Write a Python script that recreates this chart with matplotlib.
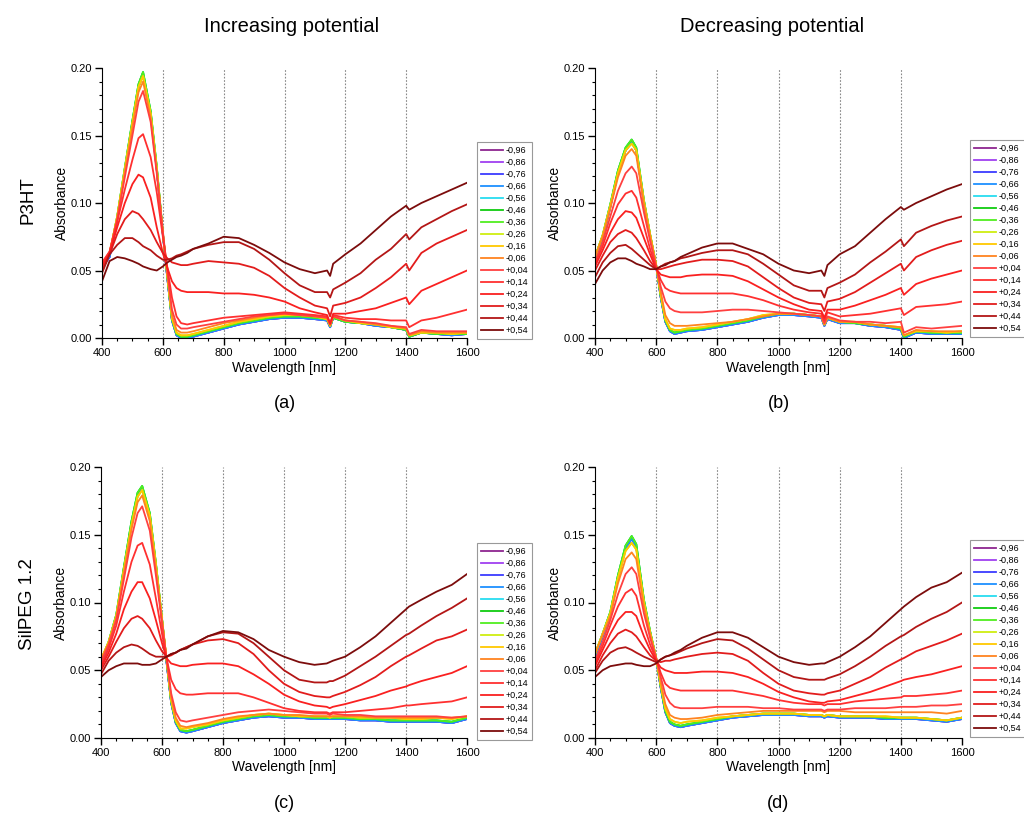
import matplotlib
matplotlib.use("Agg")
import matplotlib.pyplot as plt
from matplotlib.ticker import MultipleLocator

plt.rcParams['font.family'] = ['Liberation Sans', 'DejaVu Sans']

WL = [400, 425, 450, 475, 500, 520, 535, 560, 580, 600, 615, 630, 645, 660, 680, 700,
      750, 800, 850, 900, 950, 1000, 1050, 1100, 1140, 1150, 1160, 1200, 1250, 1300,
      1350, 1400, 1410, 1450, 1500, 1550, 1600]

POTENTIALS = ['-0,96', '-0,86', '-0,76', '-0,66', '-0,56', '-0,46', '-0,36', '-0,26',
              '-0,16', '-0,06', '+0,04', '+0,14', '+0,24', '+0,34', '+0,44', '+0,54']
COLORS = ['#8e2590', '#a040f0', '#3c3cff', '#1e90ff', '#28dcf0', '#10cc10', '#50ee20',
          '#cfee10', '#ffc800', '#ff8420', '#ff4040', '#ff3030', '#fa2020', '#e21c1c',
          '#b31616', '#7c0c0c']

# ---- (a) P3HT, increasing potential
A_NLOW = [0.052, 0.060, 0.088, 0.124, 0.159, 0.186, 0.195, 0.166, 0.125, 0.077, 0.044, 0.013, 0.002,
          0.000, 0.000, 0.001, 0.004, 0.007, 0.010, 0.012, 0.014, 0.015, 0.015, 0.014, 0.013, 0.008,
          0.015, 0.012, 0.011, 0.009, 0.008, 0.006, 0.001, 0.004, 0.003, 0.002, 0.003]
A_NHIGH = [0.054, 0.062, 0.090, 0.126, 0.161, 0.188, 0.197, 0.168, 0.127, 0.078, 0.045, 0.014, 0.003,
           0.001, 0.001, 0.002, 0.005, 0.008, 0.011, 0.013, 0.015, 0.016, 0.016, 0.015, 0.014, 0.009,
           0.015, 0.012, 0.011, 0.010, 0.008, 0.006, 0.001, 0.004, 0.003, 0.003, 0.003]
A_NYEL = [0.055, 0.063, 0.090, 0.125, 0.159, 0.186, 0.194, 0.166, 0.126, 0.078, 0.046, 0.015, 0.004,
          0.002, 0.002, 0.003, 0.006, 0.009, 0.012, 0.014, 0.016, 0.017, 0.017, 0.016, 0.014, 0.009,
          0.016, 0.013, 0.011, 0.010, 0.008, 0.007, 0.002, 0.004, 0.004, 0.003, 0.004]
A_NORG = [0.055, 0.063, 0.089, 0.123, 0.156, 0.182, 0.190, 0.163, 0.124, 0.078, 0.047, 0.017, 0.006,
          0.004, 0.004, 0.005, 0.008, 0.011, 0.013, 0.015, 0.017, 0.018, 0.017, 0.016, 0.015, 0.010,
          0.016, 0.013, 0.012, 0.010, 0.009, 0.007, 0.002, 0.005, 0.004, 0.004, 0.004]
A_P04 = [0.056, 0.064, 0.088, 0.119, 0.150, 0.175, 0.183, 0.160, 0.122, 0.079, 0.049, 0.021, 0.010,
         0.007, 0.007, 0.008, 0.010, 0.012, 0.014, 0.016, 0.017, 0.018, 0.017, 0.016, 0.015, 0.010,
         0.016, 0.013, 0.012, 0.011, 0.009, 0.008, 0.003, 0.006, 0.005, 0.005, 0.005]
A_P14 = [0.055, 0.064, 0.086, 0.110, 0.132, 0.148, 0.151, 0.134, 0.108, 0.075, 0.052, 0.030, 0.016,
         0.011, 0.010, 0.011, 0.013, 0.015, 0.016, 0.017, 0.018, 0.019, 0.018, 0.017, 0.016, 0.010,
         0.017, 0.015, 0.014, 0.014, 0.013, 0.013, 0.008, 0.013, 0.015, 0.018, 0.021]
A_P24 = [0.053, 0.063, 0.082, 0.100, 0.114, 0.121, 0.119, 0.104, 0.082, 0.063, 0.052, 0.042, 0.037,
         0.035, 0.034, 0.034, 0.034, 0.033, 0.033, 0.032, 0.030, 0.027, 0.022, 0.019, 0.017, 0.011,
         0.018, 0.018, 0.020, 0.022, 0.026, 0.030, 0.025, 0.035, 0.040, 0.045, 0.050]
A_P34 = [0.050, 0.062, 0.077, 0.088, 0.094, 0.092, 0.088, 0.080, 0.071, 0.063, 0.059, 0.056, 0.055,
         0.054, 0.054, 0.055, 0.057, 0.056, 0.055, 0.052, 0.046, 0.037, 0.030, 0.024, 0.022, 0.016,
         0.024, 0.026, 0.030, 0.037, 0.045, 0.055, 0.050, 0.063, 0.070, 0.075, 0.080]
A_P44 = [0.048, 0.062, 0.069, 0.074, 0.074, 0.071, 0.068, 0.065, 0.061, 0.058, 0.058, 0.059, 0.061,
         0.062, 0.064, 0.066, 0.069, 0.071, 0.071, 0.066, 0.058, 0.048, 0.039, 0.034, 0.034, 0.030,
         0.036, 0.041, 0.048, 0.058, 0.066, 0.077, 0.073, 0.082, 0.088, 0.094, 0.099]
A_P54 = [0.042, 0.057, 0.060, 0.059, 0.057, 0.055, 0.053, 0.051, 0.050, 0.053, 0.056, 0.058, 0.060,
         0.061, 0.063, 0.066, 0.070, 0.075, 0.074, 0.069, 0.063, 0.056, 0.051, 0.048, 0.050, 0.046,
         0.055, 0.062, 0.070, 0.080, 0.090, 0.098, 0.095, 0.100, 0.105, 0.110, 0.115]

# ---- (b) P3HT, decreasing potential
B_NLOW = [0.058, 0.074, 0.097, 0.122, 0.139, 0.145, 0.139, 0.100, 0.076, 0.053, 0.030, 0.012, 0.005,
          0.003, 0.004, 0.005, 0.006, 0.008, 0.010, 0.012, 0.015, 0.017, 0.017, 0.016, 0.015, 0.009,
          0.014, 0.011, 0.011, 0.009, 0.008, 0.006, 0.000, 0.004, 0.003, 0.003, 0.003]
B_NHIGH = [0.060, 0.076, 0.099, 0.124, 0.141, 0.147, 0.141, 0.102, 0.077, 0.054, 0.031, 0.013, 0.006,
           0.004, 0.005, 0.006, 0.007, 0.009, 0.011, 0.013, 0.016, 0.018, 0.018, 0.017, 0.016, 0.010,
           0.015, 0.012, 0.011, 0.010, 0.009, 0.007, 0.001, 0.005, 0.004, 0.004, 0.004]
B_NYEL = [0.060, 0.076, 0.098, 0.122, 0.139, 0.144, 0.139, 0.101, 0.077, 0.054, 0.032, 0.014, 0.007,
          0.006, 0.006, 0.007, 0.008, 0.010, 0.012, 0.014, 0.017, 0.018, 0.018, 0.017, 0.016, 0.010,
          0.015, 0.012, 0.012, 0.010, 0.009, 0.008, 0.002, 0.005, 0.005, 0.004, 0.005]
B_NORG = [0.060, 0.075, 0.096, 0.119, 0.135, 0.140, 0.135, 0.099, 0.076, 0.054, 0.034, 0.017, 0.011,
          0.009, 0.009, 0.009, 0.010, 0.011, 0.012, 0.014, 0.016, 0.018, 0.018, 0.017, 0.016, 0.010,
          0.015, 0.012, 0.012, 0.010, 0.009, 0.008, 0.002, 0.006, 0.005, 0.005, 0.005]
B_P04 = [0.056, 0.071, 0.090, 0.109, 0.122, 0.127, 0.122, 0.093, 0.072, 0.053, 0.038, 0.027, 0.022,
         0.020, 0.019, 0.019, 0.019, 0.020, 0.021, 0.021, 0.020, 0.019, 0.018, 0.017, 0.016, 0.011,
         0.016, 0.013, 0.012, 0.012, 0.011, 0.012, 0.004, 0.008, 0.007, 0.008, 0.009]
B_P14 = [0.055, 0.068, 0.085, 0.099, 0.107, 0.109, 0.104, 0.083, 0.066, 0.052, 0.043, 0.037, 0.035,
         0.034, 0.033, 0.033, 0.033, 0.033, 0.033, 0.031, 0.028, 0.024, 0.021, 0.019, 0.018, 0.013,
         0.019, 0.016, 0.017, 0.018, 0.020, 0.022, 0.017, 0.023, 0.024, 0.025, 0.027]
B_P24 = [0.053, 0.065, 0.078, 0.088, 0.094, 0.093, 0.089, 0.074, 0.062, 0.051, 0.047, 0.046, 0.045,
         0.045, 0.045, 0.046, 0.047, 0.047, 0.046, 0.042, 0.036, 0.030, 0.025, 0.021, 0.020, 0.015,
         0.021, 0.021, 0.024, 0.028, 0.032, 0.037, 0.032, 0.040, 0.044, 0.047, 0.050]
B_P34 = [0.050, 0.061, 0.071, 0.077, 0.080, 0.078, 0.074, 0.065, 0.057, 0.051, 0.051, 0.052, 0.053,
         0.054, 0.055, 0.056, 0.058, 0.058, 0.057, 0.053, 0.045, 0.037, 0.030, 0.026, 0.025, 0.020,
         0.027, 0.029, 0.034, 0.041, 0.048, 0.055, 0.050, 0.060, 0.065, 0.069, 0.072]
B_P44 = [0.045, 0.056, 0.063, 0.068, 0.069, 0.066, 0.063, 0.058, 0.054, 0.051, 0.053, 0.055, 0.056,
         0.057, 0.059, 0.060, 0.063, 0.065, 0.065, 0.062, 0.055, 0.047, 0.039, 0.035, 0.035, 0.030,
         0.037, 0.041, 0.047, 0.056, 0.064, 0.073, 0.068, 0.078, 0.083, 0.087, 0.090]
B_P54 = [0.040, 0.050, 0.056, 0.059, 0.059, 0.057, 0.055, 0.053, 0.051, 0.051, 0.053, 0.054, 0.056,
         0.057, 0.060, 0.062, 0.067, 0.070, 0.070, 0.066, 0.062, 0.055, 0.050, 0.048, 0.050, 0.046,
         0.054, 0.062, 0.068, 0.078, 0.088, 0.097, 0.095, 0.100, 0.105, 0.110, 0.114]

# ---- (c) SilPEG 1.2, increasing potential
C_NLOW = [0.055, 0.069, 0.089, 0.124, 0.158, 0.179, 0.184, 0.164, 0.127, 0.087, 0.056, 0.026, 0.011,
          0.005, 0.004, 0.005, 0.008, 0.011, 0.013, 0.015, 0.016, 0.015, 0.015, 0.014, 0.014, 0.014,
          0.014, 0.014, 0.013, 0.013, 0.012, 0.012, 0.012, 0.012, 0.012, 0.011, 0.014]
C_NHIGH = [0.057, 0.071, 0.091, 0.126, 0.160, 0.181, 0.186, 0.166, 0.129, 0.088, 0.057, 0.027, 0.012,
           0.006, 0.005, 0.006, 0.009, 0.012, 0.014, 0.016, 0.017, 0.016, 0.016, 0.015, 0.015, 0.015,
           0.015, 0.015, 0.014, 0.014, 0.013, 0.013, 0.013, 0.013, 0.013, 0.012, 0.015]
C_NYEL = [0.058, 0.071, 0.090, 0.124, 0.157, 0.178, 0.183, 0.164, 0.128, 0.088, 0.058, 0.028, 0.013,
          0.007, 0.007, 0.008, 0.010, 0.013, 0.015, 0.017, 0.018, 0.017, 0.016, 0.016, 0.016, 0.015,
          0.016, 0.016, 0.015, 0.015, 0.015, 0.014, 0.014, 0.014, 0.015, 0.014, 0.016]
C_NORG = [0.058, 0.070, 0.089, 0.122, 0.154, 0.174, 0.179, 0.160, 0.125, 0.087, 0.058, 0.030, 0.015,
          0.009, 0.008, 0.009, 0.011, 0.014, 0.016, 0.017, 0.018, 0.017, 0.017, 0.016, 0.016, 0.016,
          0.016, 0.016, 0.016, 0.015, 0.015, 0.015, 0.015, 0.015, 0.015, 0.015, 0.016]
C_P04 = [0.056, 0.069, 0.087, 0.117, 0.148, 0.166, 0.171, 0.153, 0.120, 0.085, 0.059, 0.033, 0.019,
         0.013, 0.012, 0.013, 0.015, 0.017, 0.019, 0.020, 0.021, 0.020, 0.019, 0.018, 0.018, 0.017,
         0.018, 0.017, 0.017, 0.016, 0.016, 0.016, 0.016, 0.016, 0.016, 0.015, 0.016]
C_P14 = [0.053, 0.066, 0.083, 0.108, 0.130, 0.142, 0.144, 0.128, 0.103, 0.077, 0.059, 0.043, 0.036,
         0.033, 0.032, 0.032, 0.033, 0.033, 0.033, 0.030, 0.026, 0.022, 0.020, 0.019, 0.019, 0.018,
         0.019, 0.019, 0.020, 0.021, 0.022, 0.024, 0.024, 0.025, 0.026, 0.027, 0.030]
C_P24 = [0.052, 0.063, 0.077, 0.095, 0.108, 0.115, 0.115, 0.103, 0.087, 0.070, 0.059, 0.055, 0.054,
         0.053, 0.053, 0.054, 0.055, 0.055, 0.053, 0.047, 0.040, 0.032, 0.027, 0.024, 0.023, 0.022,
         0.023, 0.025, 0.028, 0.031, 0.035, 0.038, 0.039, 0.042, 0.045, 0.048, 0.053]
C_P34 = [0.050, 0.060, 0.071, 0.081, 0.088, 0.090, 0.088, 0.081, 0.072, 0.064, 0.060, 0.061, 0.063,
         0.065, 0.067, 0.069, 0.072, 0.073, 0.070, 0.062, 0.050, 0.040, 0.034, 0.031, 0.030, 0.030,
         0.031, 0.034, 0.039, 0.045, 0.053, 0.060, 0.061, 0.066, 0.072, 0.075, 0.080]
C_P44 = [0.047, 0.057, 0.063, 0.067, 0.069, 0.068, 0.066, 0.062, 0.060, 0.060, 0.060, 0.062, 0.063,
         0.065, 0.067, 0.069, 0.075, 0.078, 0.077, 0.070, 0.060, 0.050, 0.043, 0.041, 0.041, 0.042,
         0.042, 0.046, 0.053, 0.060, 0.068, 0.076, 0.077, 0.083, 0.090, 0.096, 0.103]
C_P54 = [0.045, 0.050, 0.053, 0.055, 0.055, 0.055, 0.054, 0.054, 0.055, 0.058, 0.060, 0.062, 0.063,
         0.065, 0.066, 0.069, 0.075, 0.079, 0.078, 0.073, 0.065, 0.060, 0.056, 0.054, 0.055, 0.056,
         0.057, 0.060, 0.067, 0.075, 0.085, 0.095, 0.097, 0.102, 0.108, 0.113, 0.121]

# ---- (d) SilPEG 1.2, decreasing potential
D_NLOW = [0.060, 0.075, 0.091, 0.118, 0.140, 0.147, 0.141, 0.100, 0.078, 0.058, 0.037, 0.019, 0.011,
          0.009, 0.008, 0.009, 0.011, 0.013, 0.015, 0.016, 0.017, 0.017, 0.017, 0.016, 0.016, 0.015,
          0.016, 0.015, 0.015, 0.015, 0.014, 0.014, 0.014, 0.014, 0.013, 0.012, 0.014]
D_NHIGH = [0.062, 0.077, 0.093, 0.120, 0.142, 0.149, 0.143, 0.102, 0.079, 0.059, 0.038, 0.020, 0.012,
           0.010, 0.009, 0.010, 0.012, 0.014, 0.016, 0.017, 0.018, 0.018, 0.018, 0.017, 0.017, 0.016,
           0.017, 0.016, 0.016, 0.016, 0.015, 0.015, 0.015, 0.015, 0.014, 0.013, 0.015]
D_NYEL = [0.062, 0.077, 0.092, 0.118, 0.138, 0.144, 0.139, 0.100, 0.078, 0.059, 0.039, 0.022, 0.014,
          0.012, 0.011, 0.012, 0.013, 0.015, 0.016, 0.017, 0.018, 0.018, 0.018, 0.017, 0.017, 0.016,
          0.017, 0.016, 0.016, 0.016, 0.016, 0.015, 0.015, 0.015, 0.014, 0.013, 0.015]
D_NORG = [0.062, 0.076, 0.090, 0.114, 0.132, 0.137, 0.132, 0.097, 0.077, 0.059, 0.041, 0.025, 0.017,
          0.015, 0.014, 0.014, 0.015, 0.017, 0.018, 0.019, 0.020, 0.020, 0.020, 0.020, 0.020, 0.019,
          0.020, 0.020, 0.019, 0.019, 0.019, 0.019, 0.019, 0.019, 0.019, 0.018, 0.020]
D_P04 = [0.057, 0.071, 0.087, 0.106, 0.121, 0.126, 0.121, 0.092, 0.074, 0.059, 0.045, 0.032, 0.026,
         0.023, 0.022, 0.022, 0.022, 0.023, 0.023, 0.023, 0.022, 0.022, 0.021, 0.021, 0.021, 0.020,
         0.021, 0.021, 0.022, 0.022, 0.022, 0.023, 0.023, 0.023, 0.024, 0.024, 0.025]
D_P14 = [0.055, 0.068, 0.083, 0.097, 0.107, 0.110, 0.105, 0.083, 0.069, 0.058, 0.048, 0.040, 0.037,
         0.036, 0.035, 0.035, 0.035, 0.035, 0.035, 0.033, 0.031, 0.028, 0.026, 0.025, 0.025, 0.024,
         0.025, 0.025, 0.027, 0.028, 0.029, 0.030, 0.031, 0.031, 0.032, 0.033, 0.035]
D_P24 = [0.053, 0.065, 0.077, 0.087, 0.093, 0.093, 0.090, 0.075, 0.065, 0.057, 0.052, 0.050, 0.049,
         0.048, 0.048, 0.048, 0.049, 0.049, 0.048, 0.045, 0.040, 0.034, 0.030, 0.027, 0.026, 0.026,
         0.027, 0.028, 0.031, 0.034, 0.038, 0.042, 0.043, 0.045, 0.047, 0.050, 0.053]
D_P34 = [0.050, 0.061, 0.070, 0.077, 0.080, 0.078, 0.075, 0.067, 0.061, 0.057, 0.056, 0.057, 0.057,
         0.058, 0.059, 0.060, 0.062, 0.063, 0.062, 0.057, 0.048, 0.040, 0.035, 0.033, 0.032, 0.032,
         0.033, 0.035, 0.040, 0.045, 0.052, 0.058, 0.059, 0.064, 0.068, 0.072, 0.077]
D_P44 = [0.048, 0.057, 0.063, 0.066, 0.067, 0.065, 0.063, 0.060, 0.058, 0.056, 0.058, 0.060, 0.061,
         0.062, 0.064, 0.066, 0.070, 0.073, 0.072, 0.066, 0.058, 0.050, 0.045, 0.043, 0.043, 0.043,
         0.044, 0.047, 0.053, 0.060, 0.068, 0.075, 0.076, 0.082, 0.088, 0.093, 0.100]
D_P54 = [0.045, 0.050, 0.053, 0.054, 0.055, 0.055, 0.054, 0.053, 0.053, 0.055, 0.058, 0.060, 0.061,
         0.063, 0.065, 0.068, 0.074, 0.078, 0.078, 0.074, 0.067, 0.060, 0.056, 0.054, 0.055, 0.055,
         0.056, 0.060, 0.067, 0.075, 0.085, 0.095, 0.097, 0.104, 0.111, 0.115, 0.122]

# the nine most negative potentials overlap almost exactly, read as three bands
A_CURVES = [A_NLOW] * 4 + [A_NHIGH] * 3 + [A_NYEL] * 2 + [A_NORG, A_P04, A_P14, A_P24, A_P34, A_P44, A_P54]
B_CURVES = [B_NLOW] * 4 + [B_NHIGH] * 3 + [B_NYEL] * 2 + [B_NORG, B_P04, B_P14, B_P24, B_P34, B_P44, B_P54]
C_CURVES = [C_NLOW] * 4 + [C_NHIGH] * 3 + [C_NYEL] * 2 + [C_NORG, C_P04, C_P14, C_P24, C_P34, C_P44, C_P54]
D_CURVES = [D_NLOW] * 4 + [D_NHIGH] * 3 + [D_NYEL] * 2 + [D_NORG, D_P04, D_P14, D_P24, D_P34, D_P44, D_P54]

W, H = 1024, 815
fig = plt.figure(figsize=(W / 100, H / 100), dpi=100)


def px_axes(left, top, right, bottom):
    return fig.add_axes([left / W, 1 - bottom / H, (right - left) / W, (bottom - top) / H])


def draw_panel(ax, curves, legend_xy, letter):
    for ys, col, lab in zip(curves, COLORS, POTENTIALS):
        ax.plot(WL, ys, color=col, lw=1.3, label=lab)
    for xv in [600, 800, 1000, 1200, 1400]:
        ax.axvline(xv, color='#888888', ls=(0, (1.5, 1.5)), lw=0.8, zorder=0)
    ax.set_xlim(400, 1600)
    ax.set_ylim(0, 0.2)
    ax.xaxis.set_major_locator(MultipleLocator(200))
    ax.xaxis.set_minor_locator(MultipleLocator(50))
    ax.yaxis.set_major_locator(MultipleLocator(0.05))
    ax.yaxis.set_minor_locator(MultipleLocator(0.01))
    ax.yaxis.set_major_formatter(plt.FuncFormatter(lambda v, p: '%.2f' % v))
    for s in ['top', 'right']:
        ax.spines[s].set_visible(False)
    ax.tick_params(which='major', length=5, width=1, labelsize=8, pad=2)
    ax.tick_params(which='minor', length=2.5, width=0.8)
    ax.set_xlabel('Wavelength [nm]', fontsize=10, labelpad=2)
    ax.set_ylabel('Absorbance', fontsize=10, labelpad=1)
    leg = ax.legend(loc='upper left', bbox_to_anchor=(legend_xy[0] / W, 1 - legend_xy[1] / H),
                    bbox_transform=fig.transFigure, borderaxespad=0, fontsize=6.5,
                    labelspacing=0.33, handlelength=2.4, handletextpad=0.3, borderpad=0.45,
                    fancybox=False, framealpha=1, edgecolor='#999999')
    leg.get_frame().set_linewidth(0.8)
    pos = ax.get_position()
    fig.text(pos.x0 + pos.width / 2, pos.y0 - 66 / H, letter, ha='center', va='center', fontsize=13)


ax_a = px_axes(102, 68, 467, 338)
ax_b = px_axes(595, 68, 962, 338)
ax_c = px_axes(101, 467, 467, 738)
ax_d = px_axes(595, 467, 962, 738)

draw_panel(ax_a, A_CURVES, (477, 142), '(a)')
draw_panel(ax_b, B_CURVES, (970, 140), '(b)')
draw_panel(ax_c, C_CURVES, (477, 543), '(c)')
draw_panel(ax_d, D_CURVES, (970, 540), '(d)')

fig.text(292 / W, 1 - 26 / H, 'Increasing potential', ha='center', va='center', fontsize=14.5)
fig.text(772 / W, 1 - 26 / H, 'Decreasing potential', ha='center', va='center', fontsize=14.5)
fig.text(28 / W, 1 - 200 / H, 'P3HT', rotation=90, ha='center', va='center', fontsize=13.5)
fig.text(28 / W, 1 - 604 / H, 'SilPEG 1.2', rotation=90, ha='center', va='center', fontsize=13.5)

fig.savefig('out.png', dpi=100)
